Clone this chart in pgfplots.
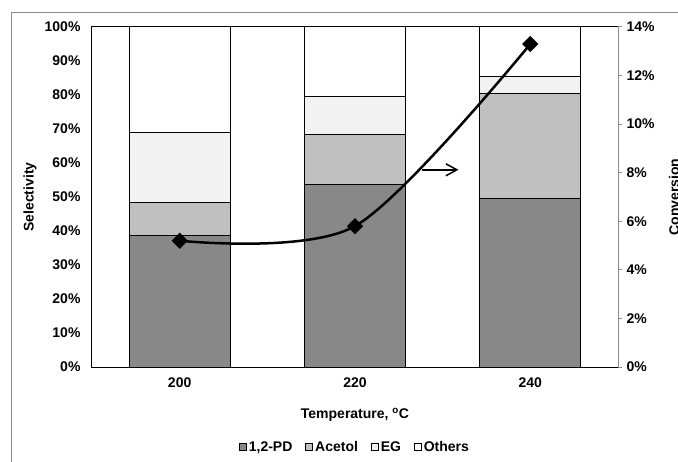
\documentclass[border=0pt]{standalone}
\usepackage{fontspec}
\setmainfont{Liberation Sans}
\usepackage{pgfplots}
\pgfplotsset{compat=1.18}
\usepackage{pgfplotstable}
\usetikzlibrary{arrows.meta}

\definecolor{pd}{HTML}{888888}
\definecolor{acetol}{HTML}{C0C0C0}
\definecolor{eg}{HTML}{F2F2F2}
\definecolor{frame}{HTML}{8C8C8C}

% selectivity (%) per temperature, conversion (%) on the right axis
\pgfplotstableread{
x pd acetol eg others conv
0 38.8 9.7 20.5 31.0 5.2
1 53.8 14.7 11.1 20.4 5.8
2 49.5 30.9 5.1 14.5 13.3
}\sel

\begin{document}
\begin{tikzpicture}[font=\bfseries\fontsize{14}{16}\selectfont]
\pgfplotsset{
  base/.style={scale only axis, width=526pt, height=340pt,
    xmin=-0.5, xmax=2.5,
    /pgf/number format/assume math mode=true},
  sq/.style={legend image code/.code={
    \draw[##1, draw=black, line width=0.8pt] (0pt,-3.5pt) rectangle (7pt,3.5pt);}},
}
\begin{axis}[base,
    ybar stacked, bar width=101pt,
    ymin=0, ymax=100, ytick={0,10,...,100},
    yticklabel={\pgfmathprintnumber{\tick}\%},
    xtick={0,1,2}, xticklabels={200,220,240},
    major tick length=0pt,
    yticklabel style={xshift=-8pt},
    xticklabel style={yshift=-7pt},
    axis line style={black, line width=1pt},
    ylabel={Selectivity},
    every axis y label/.style={at={(axis description cs:0,0.5)}, xshift=-62pt, rotate=90, anchor=center},
    xlabel={Temperature, \textsuperscript{o}C},
    every axis x label/.style={at={(axis description cs:0.5,0)}, yshift=-48pt, anchor=center},
    legend style={at={(axis description cs:0.5,0)}, yshift=-80pt, anchor=center,
      draw=none, fill=none, legend columns=4,
      /tikz/every even column/.append style={column sep=11pt},
      nodes={inner xsep=2pt}},
  ]
\addplot[fill=pd, draw=black, line width=1pt, sq] table[x=x,y=pd]{\sel};
\addlegendentry{1,2-PD}
\addplot[fill=acetol, draw=black, line width=1pt, sq] table[x=x,y=acetol]{\sel};
\addlegendentry{Acetol}
\addplot[fill=eg, draw=black, line width=1pt, sq] table[x=x,y=eg]{\sel};
\addlegendentry{EG}
\addplot[fill=white, draw=black, line width=1pt, sq] table[x=x,y=others]{\sel};
\addlegendentry{Others}
\draw[line width=1.5pt, -{Straight Barb[length=11pt,width=12pt]}] (axis cs:1.38,58) -- (axis cs:1.59,58);
\end{axis}
\begin{axis}[base,
    axis x line=none, axis y line*=right,
    ymin=0, ymax=14, ytick={0,2,...,14},
    yticklabel={\pgfmathprintnumber{\tick}\%},
    tick align=outside, major tick length=4pt,
    y axis line style={frame, line width=1pt},
    ytick style={frame, line width=1pt},
    yticklabel style={xshift=1pt},
    ylabel={Conversion},
    every axis y label/.style={at={(axis description cs:1,0.5)}, xshift=56pt, rotate=90, anchor=center},
  ]
\addplot[black, line width=2.5pt, smooth, mark=square*,
  mark options={rotate=45, mark size=4.5pt, solid}] table[x=x,y=conv]{\sel};
\end{axis}
\draw[frame, line width=1pt] (-80pt,-200pt) -- (-80pt,354pt) -- (700pt,354pt);
\pgfresetboundingbox
\useasboundingbox (-92pt,-94pt) rectangle (586pt,367pt);
\end{tikzpicture}
\end{document}
